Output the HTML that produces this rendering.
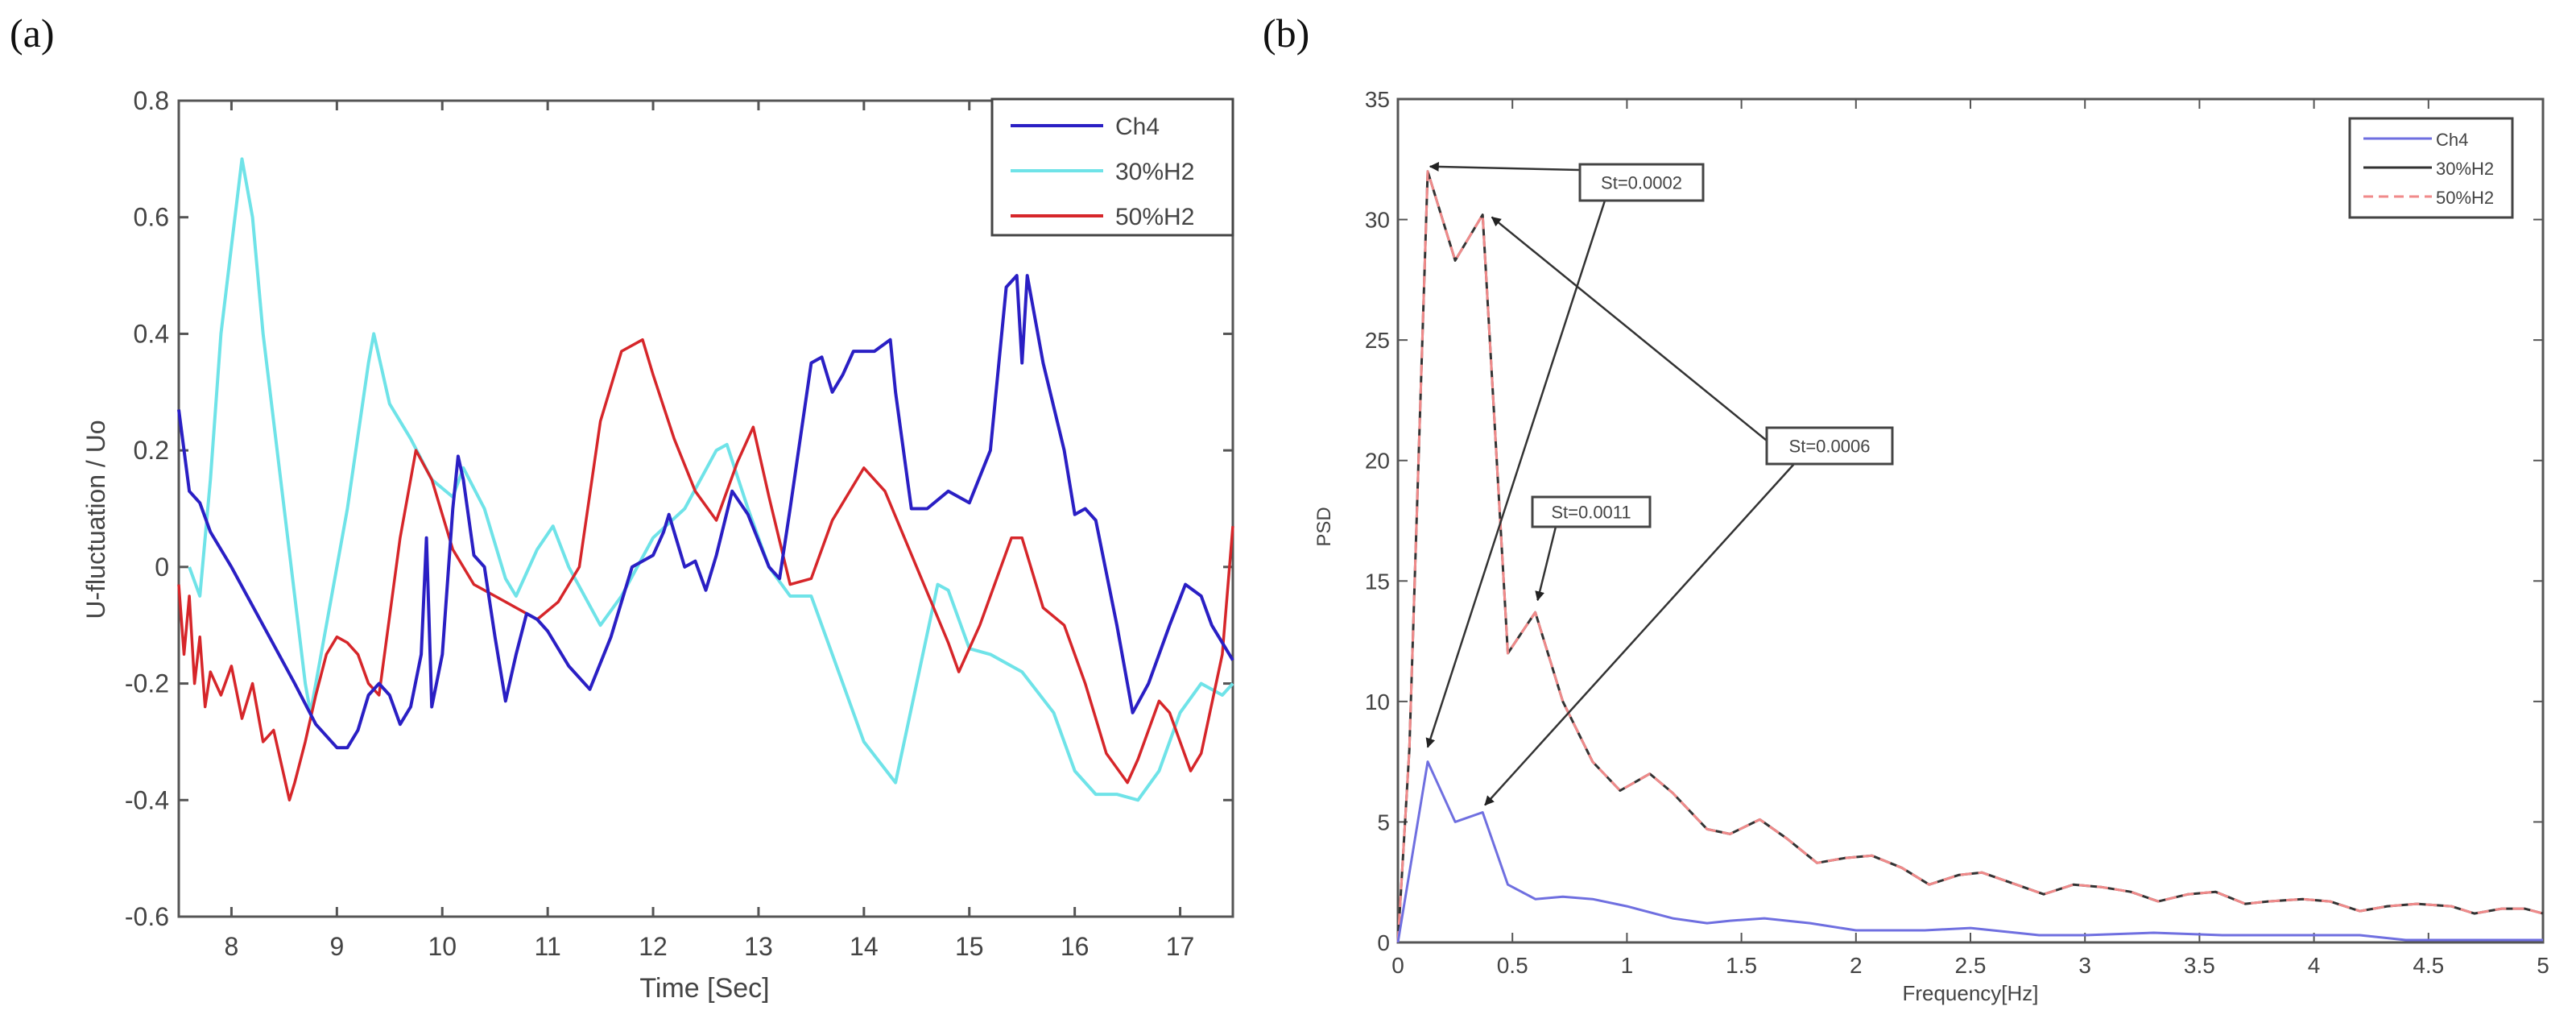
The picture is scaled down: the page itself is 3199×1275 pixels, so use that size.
<!DOCTYPE html>
<html><head><meta charset="utf-8"><style>
body{margin:0;background:#fff;}
svg{display:block;font-family:"Liberation Sans",sans-serif;}
</style></head><body>
<svg id="c" width="3199" height="1275" viewBox="0 0 3199 1275"></svg>
<script>
// ---- Panel (a) data ----
const chT=[7.5,7.6,7.7,7.8,8.0,8.3,8.6,8.8,9.0,9.1,9.2,9.3,9.4,9.5,9.6,9.7,9.8,9.85,9.9,10.0,10.1,10.15,10.2,10.3,10.4,10.5,10.6,10.7,10.8,10.9,11.0,11.2,11.4,11.6,11.8,12.0,12.1,12.15,12.3,12.4,12.5,12.6,12.75,12.9,13.1,13.2,13.3,13.5,13.6,13.7,13.8,13.9,14.1,14.25,14.3,14.45,14.6,14.8,15.0,15.2,15.35,15.45,15.5,15.55,15.7,15.9,16.0,16.1,16.2,16.4,16.55,16.7,16.9,17.05,17.2,17.3,17.5];
const chV=[0.27,0.13,0.11,0.06,0.0,-0.1,-0.2,-0.27,-0.31,-0.31,-0.28,-0.22,-0.2,-0.22,-0.27,-0.24,-0.15,0.05,-0.24,-0.15,0.1,0.19,0.15,0.02,0.0,-0.12,-0.23,-0.15,-0.08,-0.09,-0.11,-0.17,-0.21,-0.12,0.0,0.02,0.06,0.09,0.0,0.01,-0.04,0.02,0.13,0.09,0.0,-0.02,0.1,0.35,0.36,0.3,0.33,0.37,0.37,0.39,0.3,0.1,0.1,0.13,0.11,0.2,0.48,0.5,0.35,0.5,0.35,0.2,0.09,0.1,0.08,-0.1,-0.25,-0.2,-0.1,-0.03,-0.05,-0.1,-0.16];
const h30T=[7.6,7.7,7.8,7.9,8.0,8.1,8.2,8.3,8.5,8.7,8.75,8.9,9.1,9.3,9.35,9.5,9.7,9.9,10.1,10.2,10.4,10.6,10.7,10.9,11.05,11.2,11.5,11.7,12.0,12.3,12.6,12.7,12.9,13.1,13.3,13.5,13.8,14.0,14.3,14.5,14.7,14.8,15.0,15.2,15.5,15.8,16.0,16.2,16.4,16.6,16.8,17.0,17.2,17.4,17.5];
const h30V=[0.0,-0.05,0.15,0.4,0.55,0.7,0.6,0.4,0.1,-0.2,-0.25,-0.1,0.1,0.35,0.4,0.28,0.22,0.15,0.12,0.17,0.1,-0.02,-0.05,0.03,0.07,0.0,-0.1,-0.05,0.05,0.1,0.2,0.21,0.1,0.0,-0.05,-0.05,-0.2,-0.3,-0.37,-0.2,-0.03,-0.04,-0.14,-0.15,-0.18,-0.25,-0.35,-0.39,-0.39,-0.4,-0.35,-0.25,-0.2,-0.22,-0.2];
const h50T=[7.5,7.55,7.6,7.65,7.7,7.75,7.8,7.9,8.0,8.1,8.2,8.3,8.4,8.5,8.55,8.6,8.7,8.8,8.9,9.0,9.1,9.2,9.3,9.4,9.6,9.75,9.9,10.1,10.3,10.5,10.7,10.9,11.1,11.3,11.5,11.7,11.9,12.0,12.2,12.4,12.6,12.8,12.95,13.1,13.3,13.5,13.7,14.0,14.2,14.5,14.8,14.9,15.1,15.2,15.4,15.5,15.7,15.9,16.1,16.3,16.5,16.6,16.8,16.9,17.1,17.2,17.4,17.5];
const h50V=[-0.03,-0.15,-0.05,-0.2,-0.12,-0.24,-0.18,-0.22,-0.17,-0.26,-0.2,-0.3,-0.28,-0.36,-0.4,-0.37,-0.3,-0.22,-0.15,-0.12,-0.13,-0.15,-0.2,-0.22,0.05,0.2,0.15,0.03,-0.03,-0.05,-0.07,-0.09,-0.06,0.0,0.25,0.37,0.39,0.33,0.22,0.13,0.08,0.18,0.24,0.12,-0.03,-0.02,0.08,0.17,0.13,0.0,-0.13,-0.18,-0.1,-0.05,0.05,0.05,-0.07,-0.1,-0.2,-0.32,-0.37,-0.33,-0.23,-0.25,-0.35,-0.32,-0.15,0.07];
const aXTicks=[8,9,10,11,12,13,14,15,16,17];
const aYTicks=[0.8,0.6,0.4,0.2,0,-0.2,-0.4,-0.6];
const aYLabels=["0.8","0.6","0.4","0.2","0","-0.2","-0.4","-0.6"];
// ---- Panel (b) data ----
const fR=[0,0.05,0.13,0.25,0.37,0.48,0.6,0.72,0.85,0.97,1.1,1.2,1.35,1.45,1.58,1.7,1.83,1.95,2.07,2.2,2.32,2.45,2.55,2.7,2.82,2.95,3.07,3.2,3.32,3.45,3.57,3.7,3.8,3.95,4.07,4.2,4.32,4.45,4.6,4.7,4.82,4.92,5];
const pR=[0,8,32,28.3,30.2,12,13.7,10,7.5,6.3,7,6.2,4.7,4.5,5.1,4.3,3.3,3.5,3.6,3.1,2.4,2.8,2.9,2.4,2.0,2.4,2.3,2.1,1.7,2.0,2.1,1.6,1.7,1.8,1.7,1.3,1.5,1.6,1.5,1.2,1.4,1.4,1.2];
const fB=[0,0.13,0.25,0.37,0.48,0.6,0.72,0.85,1.0,1.2,1.35,1.45,1.6,1.8,2.0,2.3,2.5,2.8,3.0,3.3,3.6,4.0,4.2,4.4,5];
const pB=[0,7.5,5.0,5.4,2.4,1.8,1.9,1.8,1.5,1.0,0.8,0.9,1.0,0.8,0.5,0.5,0.6,0.3,0.3,0.4,0.3,0.3,0.3,0.1,0.1];
const bXTicks=[0,0.5,1,1.5,2,2.5,3,3.5,4,4.5,5];
const bYTicks=[0,5,10,15,20,25,30,35];

const NS="http://www.w3.org/2000/svg";
const svg=document.getElementById('c');
function mk(tag,attrs,parent){const e=document.createElementNS(NS,tag);for(const k in attrs)e.setAttribute(k,attrs[k]);(parent||svg).appendChild(e);return e;}
const AT=125, AB=1138, BT=123, BB=1170;
const ax=v=>222+(v-7.5)*(1531-222)/10;
const ay=v=>AT+(0.8-v)*(AB-AT)/1.4;
const bx=v=>1736+v*(3158-1736)/5;
const by=v=>BB-v*(BB-BT)/35;

const defs=mk('defs',{});
const mar=mk('marker',{id:'ah',markerWidth:'12',markerHeight:'12',refX:'11',refY:'6',orient:'auto',markerUnits:'userSpaceOnUse'},defs);
mk('path',{d:'M0,0 L12,6 L0,12 z',fill:'#222'},mar);

let t=mk('text',{x:12,y:58,'font-size':50,'font-family':'Liberation Serif, serif',fill:'#111'});t.textContent='(a)';


t=mk('text',{x:1568,y:58,'font-size':50,'font-family':'Liberation Serif, serif',fill:'#111'});t.textContent='(b)';



// ===== Panel a =====
const ga=mk('g',{});


let r=mk('rect',{x:222,y:AT,width:1309,height:AB-AT,fill:'none',stroke:'#555','stroke-width':3},ga);


aXTicks.forEach(v=>{
  mk('line',{x1:ax(v),x2:ax(v),y1:AB,y2:AB-12,stroke:'#555','stroke-width':3},ga);
  mk('line',{x1:ax(v),x2:ax(v),y1:AT,y2:AT+12,stroke:'#555','stroke-width':3},ga);
  const l=mk('text',{x:ax(v),y:1186,'font-size':32,'text-anchor':'middle',fill:'#444'},ga);l.textContent=v;
  
  
});
aYTicks.forEach((v,i)=>{
  mk('line',{x1:222,x2:234,y1:ay(v),y2:ay(v),stroke:'#555','stroke-width':3},ga);
  mk('line',{x1:1519,x2:1531,y1:ay(v),y2:ay(v),stroke:'#555','stroke-width':3},ga);
  const l=mk('text',{x:210,y:ay(v)+11,'font-size':32,'text-anchor':'end',fill:'#444'},ga);l.textContent=aYLabels[i];
  
  
});
t=mk('text',{x:875,y:1238,'font-size':34,'text-anchor':'middle',fill:'#444'},ga);t.textContent='Time [Sec]';


t=mk('text',{x:0,y:0,'font-size':32,'text-anchor':'middle',fill:'#444',transform:'translate(130,645) rotate(-90)'},ga);t.textContent='U-fluctuation / Uo';


function line(xs,ys,fx,fy,col,w,name,dash){
  const d=xs.map((x,i)=>(i?'L':'M')+fx(x).toFixed(1)+','+fy(ys[i]).toFixed(1)).join(' ');
  const p=mk('path',{d:d,fill:'none',stroke:col,'stroke-width':w,'stroke-linejoin':'round'});
  if(dash)p.setAttribute('stroke-dasharray',dash);
  
  
  return p;
}
line(h30T,h30V,ax,ay,'#6fe3e8',4,'series-30h2-a');
line(h50T,h50V,ax,ay,'#d6262a',3.5,'series-50h2-a');
line(chT,chV,ax,ay,'#2a1fc4',4,'series-ch4-a');
const la=mk('g',{});


mk('rect',{x:1232,y:123,width:299,height:169,fill:'#fff',stroke:'#444','stroke-width':3},la);
[['Ch4','#2a1fc4',166],['30%H2','#6fe3e8',222],['50%H2','#d6262a',278]].forEach(e=>{
  mk('line',{x1:1255,x2:1370,y1:e[2]-10,y2:e[2]-10,stroke:e[1],'stroke-width':4},la);
  const l=mk('text',{x:1385,y:e[2]+1,'font-size':30,fill:'#444'},la);l.textContent=e[0];
  
  
});

// ===== Panel b =====
const gb=mk('g',{});


r=mk('rect',{x:1736,y:BT,width:1422,height:BB-BT,fill:'none',stroke:'#555','stroke-width':3},gb);


bXTicks.forEach(v=>{
  mk('line',{x1:bx(v),x2:bx(v),y1:BB,y2:BB-12,stroke:'#555','stroke-width':2},gb);
  mk('line',{x1:bx(v),x2:bx(v),y1:BT,y2:BT+12,stroke:'#555','stroke-width':2},gb);
  const l=mk('text',{x:bx(v),y:1208,'font-size':28,'text-anchor':'middle',fill:'#444'},gb);l.textContent=v;
  
  
});
bYTicks.forEach(v=>{
  mk('line',{x1:1736,x2:1748,y1:by(v),y2:by(v),stroke:'#555','stroke-width':2},gb);
  mk('line',{x1:3146,x2:3158,y1:by(v),y2:by(v),stroke:'#555','stroke-width':2},gb);
  const l=mk('text',{x:1726,y:by(v)+10,'font-size':28,'text-anchor':'end',fill:'#444'},gb);l.textContent=v;
  
  
});
t=mk('text',{x:2447,y:1242,'font-size':26,'text-anchor':'middle',fill:'#444'},gb);t.textContent='Frequency[Hz]';


t=mk('text',{x:0,y:0,'font-size':24,'text-anchor':'middle',fill:'#444',transform:'translate(1652,654) rotate(-90)'},gb);t.textContent='PSD';


line(fR,pR,bx,by,'#333',3,'series-30h2-b');
line(fR,pR,bx,by,'#f08a8a',3,'series-50h2-b','14,8');
line(fB,pB,bx,by,'#6f6fe0',3,'series-ch4-b');
function ann(label,x,y,w,h,arrows){
  const g=mk('g',{});
  
  
  arrows.forEach(a=>mk('line',{x1:a[0],y1:a[1],x2:bx(a[2]),y2:by(a[3]),stroke:'#333','stroke-width':2.5,'marker-end':'url(#ah)'},g));
  mk('rect',{x:x,y:y,width:w,height:h,fill:'#fff',stroke:'#444','stroke-width':3},g);
  const l=mk('text',{x:x+w/2,y:y+h/2+8,'font-size':22,'text-anchor':'middle',fill:'#444'},g);l.textContent=label;
}
ann('St=0.0002',1962,204,153,45,[[1962,211,0.14,32.2],[1993,249,0.13,8.1]]);
ann('St=0.0006',2194,531,156,45,[[2194,547,0.41,30.1],[2228,576,0.38,5.7]]);
ann('St=0.0011',1903,617,146,37,[[1932,654,0.61,14.2]]);
const lb=mk('g',{});


mk('rect',{x:2918,y:147,width:202,height:123,fill:'#fff',stroke:'#444','stroke-width':3},lb);
[['Ch4','#6f6fe0',180],['30%H2','#333',216],['50%H2','#f08a8a',252]].forEach((e,i)=>{
  const ln=mk('line',{x1:2935,x2:3020,y1:e[2]-8,y2:e[2]-8,stroke:e[1],'stroke-width':3},lb);
  if(i===2)ln.setAttribute('stroke-dasharray','12,7');
  const l=mk('text',{x:3025,y:e[2]+1,'font-size':22,fill:'#444'},lb);l.textContent=e[0];
  
  
});
</script>
</body></html>
